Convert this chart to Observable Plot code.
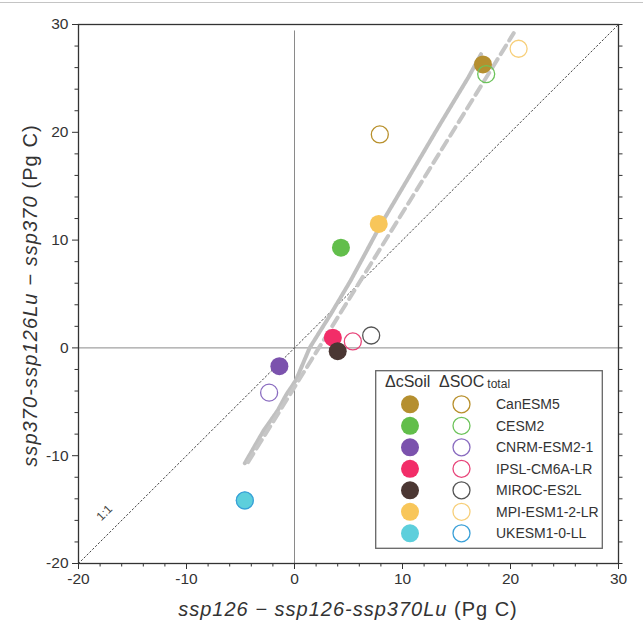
<!DOCTYPE html>
<html>
<head>
<meta charset="utf-8">
<script src="https://cdn.jsdelivr.net/npm/d3@7"></script>
<script src="https://cdn.jsdelivr.net/npm/@observablehq/plot@0.6"></script>
<style>
  body { margin: 0; background: #fff; font-family: "Liberation Sans", Arial, sans-serif; }
  #wrap { position: relative; width: 643px; height: 620px; overflow: hidden; }
  #topline { height: 2px; border-bottom: 1px solid #c4c4c4; }
  #legend { position: absolute; left: 375px; top: 370px; }
</style>
</head>
<body>
<div id="wrap">
  <div id="topline"></div>
  <div id="chart"></div>
  <svg id="legend" width="228" height="179"></svg>
</div>
<script>
// ---- data ----
const models = ["CanESM5", "CESM2", "CNRM-ESM2-1", "IPSL-CM6A-LR", "MIROC-ES2L", "MPI-ESM1-2-LR", "UKESM1-0-LL"];
const fillColors = ["#b58f2f", "#62be4b", "#7b52ad", "#f22d68", "#4b3733", "#f8c65a", "#5dcfdc"];
const ringColors = ["#b8902c", "#6cc35a", "#8a6cc0", "#e8457a", "#555555", "#f7cf7a", "#3aa0d8"];
// ΔcSoil (filled)
const cSoilX = [17.45, 4.3, -1.4, 3.55, 4.0, 7.8, -4.6];
const cSoilY = [26.3, 9.3, -1.7, 0.95, -0.3, 11.5, -14.15];
// ΔSOC total (open)
const socX = [7.9, 17.75, -2.35, 5.4, 7.1, 20.75, -4.6];
const socY = [19.8, 25.4, -4.15, 0.6, 1.15, 27.75, -14.15];
// grey trajectory
const trajX = [-4.6, -2.85, -1.55, -0.8, 0.13, 1.4, 3.4, 5.2, 8.0, 10.8, 13.3, 14.8, 16.1, 17.3];
const trajY = [-10.7, -7.65, -5.8, -4.4, -3.0, 0.0, 3.2, 6.25, 11.45, 16.2, 20.45, 22.95, 25.1, 27.3];
// dashed fit line
const fitX = [-4.3, 20.3];
const fitY = [-10.6, 29.2];
// 1:1 line
const diagX = [-20, 30];
const diagY = [-20, 30];
// ticks
const majorTicks = [-20, -10, 0, 10, 20, 30];
const minorTicks = [-18, -16, -14, -12, -8, -6, -4, -2, 2, 4, 6, 8, 12, 14, 16, 18, 22, 24, 26, 28];
const allTicks = [-20, -18, -16, -14, -12, -10, -8, -6, -4, -2, 0, 2, 4, 6, 8, 10, 12, 14, 16, 18, 20, 22, 24, 26, 28, 30];

// ---- build ----
const cSoil = models.map((m, i) => ({model: m, x: cSoilX[i], y: cSoilY[i], c: fillColors[i]}));
const soc = models.map((m, i) => ({model: m, x: socX[i], y: socY[i], c: ringColors[i]}));
const traj = trajX.map((x, i) => ({x, y: trajY[i]}));
const fit = fitX.map((x, i) => ({x, y: fitY[i]}));
const diag = diagX.map((x, i) => ({x, y: diagY[i]}));
const fmt = d => String(d);

const chart = Plot.plot({
  width: 643,
  height: 617,
  marginLeft: 78,
  marginRight: 25,
  marginTop: 21,
  marginBottom: 57,
  x: {domain: [-20, 30]},
  y: {domain: [-20, 30]},
  color: {type: "identity"},
  style: {fontFamily: "'Liberation Sans', Arial, sans-serif", fontSize: "15.5px", color: "#333", background: "#fff"},
  marks: [
    Plot.ruleX([0], {y1: -20, y2: 29.4, stroke: "#8a8a8a", strokeWidth: 1}),
    Plot.ruleY([0], {x1: -20, x2: 30, stroke: "#8a8a8a", strokeWidth: 1}),
    Plot.line(diag, {x: "x", y: "y", stroke: "#444", strokeWidth: 1, strokeDasharray: "1.5,2.5"}),
    Plot.text(["1:1"], {x: -17.6, y: -15.3, text: d => d, rotate: -45, fontSize: 12, fill: "#444"}),
    Plot.line(traj, {x: "x", y: "y", stroke: "#c0c0c0", strokeWidth: 4, strokeDasharray: "3,0.7"}),
    Plot.line(fit, {x: "x", y: "y", stroke: "#c6c6c6", strokeWidth: 4, strokeDasharray: "10,6"}),
    Plot.dot(cSoil, {x: "x", y: "y", r: 9, fill: "c", stroke: "none"}),
    Plot.dot(soc, {x: "x", y: "y", r: 8.5, fill: "none", stroke: "c", strokeWidth: 1.3}),
    Plot.frame({stroke: "#333", strokeWidth: 1.3}),
    Plot.axisX(majorTicks, {tickSize: 6, tickPadding: 3, tickFormat: fmt, label: null}),
    Plot.axisX(minorTicks, {tickSize: 3.5, tickFormat: () => "", label: null}),
    Plot.axisY(majorTicks, {tickSize: 6, tickPadding: 4, tickFormat: fmt, label: null}),
    Plot.axisY(minorTicks, {tickSize: 3.5, tickFormat: () => "", label: null}),
    Plot.axisY(allTicks, {anchor: "right", tickSize: 3.5, tickFormat: () => "", label: null})
  ]
});
document.getElementById("chart").appendChild(chart);

// axis titles with mixed italic / regular text
const svg = d3.select(chart);
const xl = svg.append("text")
  .attr("x", (78 + 618) / 2).attr("y", 613)
  .attr("text-anchor", "middle")
  .style("font-size", "20px").style("letter-spacing", "1px").attr("fill", "#333");
xl.append("tspan").style("font-style", "italic").text("ssp126 \u2212 ssp126-ssp370Lu");
xl.append("tspan").text(" (Pg C)");
const yl = svg.append("text")
  .attr("transform", `translate(37, ${(21 + 560) / 2 + 2}) rotate(-90)`)
  .attr("text-anchor", "middle")
  .style("font-size", "20px").style("letter-spacing", "1.1px").attr("fill", "#333");
yl.append("tspan").style("font-style", "italic").text("ssp370-ssp126Lu \u2212 ssp370");
yl.append("tspan").text(" (Pg C)");

// legend
const lg = d3.select("#legend").style("font-family", "'Liberation Sans', Arial, sans-serif");
lg.append("rect").attr("x", 0.7).attr("y", 0.7).attr("width", 226.6).attr("height", 177.6)
  .attr("fill", "#fff").attr("stroke", "#666").attr("stroke-width", 1.3);
lg.append("text").attr("x", 10).attr("y", 17).attr("fill", "#333").style("font-size", "16px").text("\u0394cSoil");
const h2 = lg.append("text").attr("x", 64).attr("y", 17).attr("fill", "#333").style("font-size", "16px");
h2.append("tspan").text("\u0394SOC");
h2.append("tspan").attr("dx", 3).attr("dy", 1).style("font-size", "12px").text("total");
models.forEach((m, i) => {
  const cy = 34.3 + i * 21.5;
  lg.append("circle").attr("cx", 35).attr("cy", cy).attr("r", 9).attr("fill", fillColors[i]);
  lg.append("circle").attr("cx", 86.5).attr("cy", cy).attr("r", 8.5).attr("fill", "none")
    .attr("stroke", ringColors[i]).attr("stroke-width", 1.3);
  lg.append("text").attr("x", 121).attr("y", cy).attr("dy", "0.36em").attr("fill", "#333")
    .style("font-size", "14px").text(m);
});
</script>
</body>
</html>
